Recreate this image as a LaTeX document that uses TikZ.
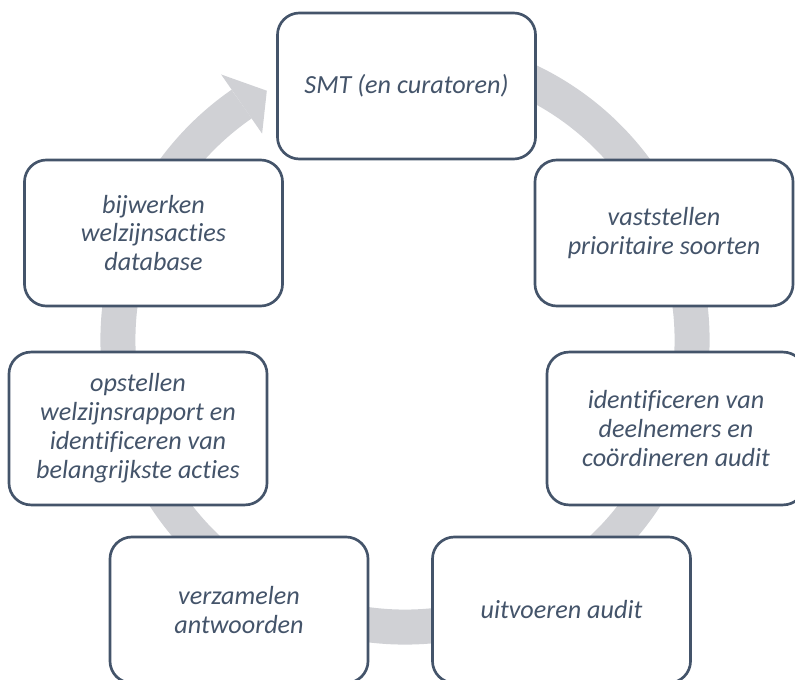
\documentclass[tikz,border=0pt]{standalone}
\usepackage{fontspec}
\setmainfont{Carlito}[Ligatures={NoCommon}]
\definecolor{leisteen}{HTML}{44546A}
\definecolor{ringgrijs}{HTML}{D0D1D5}
\tikzset{
	stapbox/.style={draw=leisteen, line width=1.9pt, rounded corners=0.55cm, fill=white, minimum width=6.45cm, minimum height=3.65cm, align=center, text=leisteen, font=\fontsize{18.6}{20.6}\selectfont\itshape},
	middenbox/.style={stapbox, minimum height=3.82cm},
	ring/.style={line width=0.875cm, draw=ringgrijs}
}
\begin{document}
\begin{tikzpicture}[x=0.025cm, y=0.025cm]
		\useasboundingbox (0,0) rectangle (795,679);
		\clip (0,0) rectangle (795,679);
		\coordinate (m) at (405,339);
		\draw[ring] ([shift={(70:287)}]m) arc[start angle=70, end angle=-235.3, radius=287];
		\fill[ringgrijs] ([shift={(124.7:323)}]m) -- ([shift={(119:285)}]m) -- ([shift={(124.7:251)}]m) -- cycle;
		\node[stapbox] (smt) at (406.5,593) {SMT (en curatoren)};
		\node[stapbox] (prio) at (664,446) {vaststellen\\prioritaire soorten};
		\node[middenbox] (deeln) at (676,250.5) {identificeren van\\deelnemers en\\coördineren audit};
		\node[stapbox] (audit) at (561.5,69) {uitvoeren audit};
		\node[stapbox] (antw) at (239,69) {verzamelen\\antwoorden};
		\node[middenbox] (rapp) at (138,250.5) {opstellen\\welzijnsrapport en\\identificeren van\\belangrijkste acties};
		\node[stapbox] (dbase) at (153.5,446) {bijwerken\\welzijnsacties\\database};
	\end{tikzpicture}
\end{document}
